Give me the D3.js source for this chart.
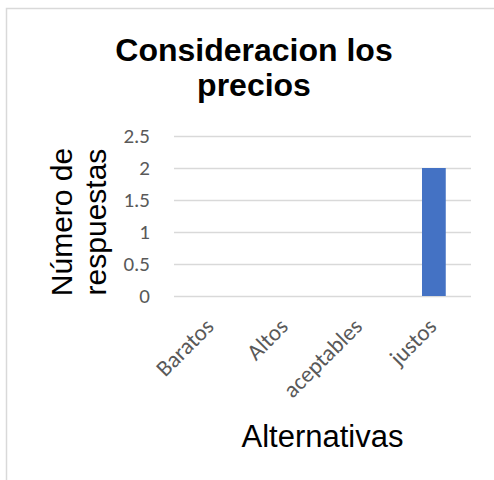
<!DOCTYPE html>
<html>
<head>
<meta charset="utf-8">
<script src="https://cdn.jsdelivr.net/npm/d3@7"></script>
<style>
  html, body { margin: 0; padding: 0; background: #fff; }
  svg { display: block; }
</style>
</head>
<body>
<svg id="chart" width="494" height="480"></svg>
<script>
// Survey answers: how respondents rate the prices
const categories = ["Baratos", "Altos", "aceptables", "justos"];
const responses = [0, 0, 0, 2];
const yTicks = [0, 0.5, 1, 1.5, 2, 2.5];
const chartTitle = ["Consideracion los", "precios"];
const yTitle = ["Número de", "respuestas"];
const xTitle = "Alternativas";

const svg = d3.select("#chart");
const W = 494, H = 480;
const plot = { left: 174, right: 471, top: 136, bottom: 296 };

const labelFont = "Carlito, Calibri, Lato, 'Open Sans', sans-serif";
const titleFont = "'Liberation Sans', Arial, Helvetica, sans-serif";

// Chart frame (only the top and left edges fall inside the view)
svg.append("rect")
  .attr("x", 6.5).attr("y", 8.5)
  .attr("width", W + 20).attr("height", H + 20)
  .attr("fill", "#fff")
  .attr("stroke", "#d9d9d9")
  .attr("stroke-width", 1.5);

const x = d3.scaleBand()
  .domain(categories)
  .range([plot.left, plot.right])
  .paddingInner(0.68)
  .paddingOuter(0.34);

const y = d3.scaleLinear()
  .domain([0, 2.5])
  .range([plot.bottom, plot.top]);

// Horizontal gridlines + value labels
const yAxis = d3.axisLeft(y)
  .tickValues(yTicks)
  .tickSize(-(plot.right - plot.left))
  .tickPadding(24)
  .tickFormat(d3.format("~g"));

const gy = svg.append("g")
  .attr("transform", `translate(${plot.left},0)`)
  .call(yAxis);
gy.select(".domain").remove();
gy.selectAll(".tick line")
  .attr("stroke", "#d9d9d9")
  .attr("stroke-width", 1.5);
gy.selectAll(".tick text")
  .attr("fill", "#595959")
  .style("font-family", labelFont)
  .style("font-size", "21px");

// Bars
svg.append("g")
  .selectAll("rect")
  .data(categories.map((c, i) => ({ c, v: responses[i] })))
  .join("rect")
  .attr("x", d => x(d.c))
  .attr("y", d => y(d.v))
  .attr("width", x.bandwidth())
  .attr("height", d => y(0) - y(d.v))
  .attr("fill", "#4472c4");

// Category labels, rotated
const xAxis = d3.axisBottom(x).tickSize(0).tickPadding(0);
const gx = svg.append("g")
  .attr("transform", `translate(0,${plot.bottom})`)
  .call(xAxis);
gx.select(".domain").remove();
gx.selectAll(".tick text")
  .attr("fill", "#595959")
  .style("font-family", labelFont)
  .style("font-size", "23px")
  .attr("text-anchor", "end")
  .attr("dy", null)
  .attr("y", null)
  .attr("transform", "translate(4,32) rotate(-45)");

// Chart title
svg.append("text")
  .attr("text-anchor", "middle")
  .style("font-family", titleFont)
  .style("font-weight", "bold")
  .style("font-size", "32px")
  .attr("fill", "#000")
  .selectAll("tspan")
  .data(chartTitle)
  .join("tspan")
  .attr("x", 254)
  .attr("y", (d, i) => 61 + i * 35)
  .text(d => d);

// Y axis title (two lines, rotated)
svg.append("text")
  .attr("transform", "translate(0,222) rotate(-90)")
  .attr("text-anchor", "middle")
  .style("font-family", titleFont)
  .style("font-size", "30px")
  .attr("fill", "#000")
  .selectAll("tspan")
  .data(yTitle)
  .join("tspan")
  .attr("x", 0)
  .attr("y", (d, i) => 72 + i * 34)
  .text(d => d);

// X axis title
svg.append("text")
  .attr("x", (plot.left + plot.right) / 2)
  .attr("y", 447)
  .attr("text-anchor", "middle")
  .style("font-family", titleFont)
  .style("font-size", "31px")
  .attr("fill", "#000")
  .text(xTitle);
</script>
</body>
</html>
